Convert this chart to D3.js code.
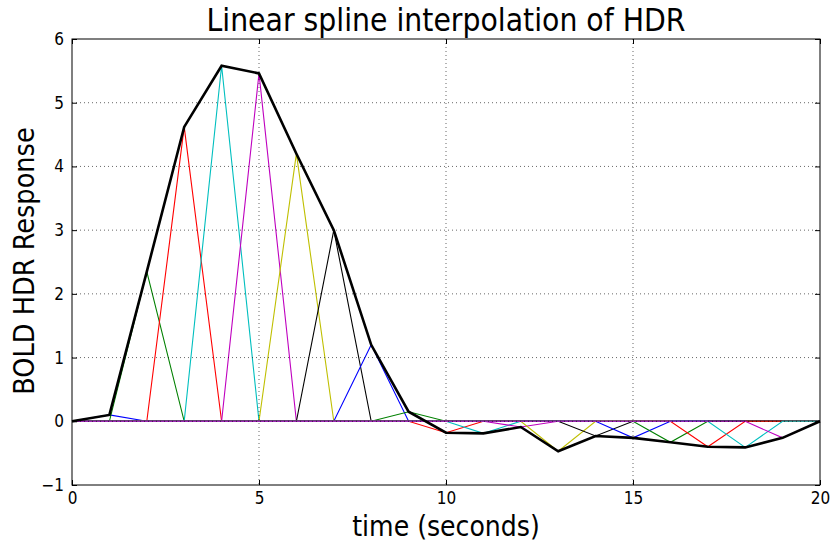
<!DOCTYPE html>
<html><head><meta charset="utf-8">
<script src="https://cdn.jsdelivr.net/npm/d3@7"></script>
<style>body{margin:0;background:#fff}svg{display:block}text{font-family:"DejaVu Sans Condensed","DejaVu Sans",sans-serif;font-stretch:condensed}</style>
</head><body><svg id="c" width="832" height="544"></svg>
<script>
const times = [0,1,2,3,4,5,6,7,8,9,10,11,12,13,14,15,16,17,18,19,20];
const hdrValues = [0,0.1,2.35,4.62,5.58,5.46,4.2,3.0,1.2,0.15,-0.18,-0.19,-0.09,-0.47,-0.23,-0.26,-0.33,-0.4,-0.41,-0.26,0];
const colorCycle = ["#0000ff","#008000","#ff0000","#00bfbf","#bf00bf","#bfbf00","#000000"];
const xTicks = [0,5,10,15,20];
const yTicks = [-1,0,1,2,3,4,5,6];
const title = "Linear spline interpolation of HDR";
const xLabel = "time (seconds)";
const yLabel = "BOLD HDR Response";

const svg = d3.select("#c");
const L=72,T=39,R=820,B=485;
const x = d3.scaleLinear().domain([0,20]).range([L,R]);
const y = d3.scaleLinear().domain([-1,6]).range([B,T]);
const line = d3.line().x(d=>x(d[0])).y(d=>y(d[1]));

const g = svg.append("g");
for (let k=1;k<times.length-1;k++){
  const pts = times.map((t,i)=>[t, i===k ? hdrValues[k] : 0]);
  g.append("path").attr("d",line(pts)).attr("fill","none")
    .attr("stroke",colorCycle[(k-1)%colorCycle.length]).attr("stroke-width",1.1);
}
g.append("path").attr("d",line(times.map((t,i)=>[t,hdrValues[i]]))).attr("fill","none")
  .attr("stroke","#000").attr("stroke-width",2.6).attr("stroke-linejoin","miter");

const grid = svg.append("g").attr("stroke","#000").attr("stroke-width",0.6).attr("stroke-dasharray","1,3");
xTicks.slice(1,-1).forEach(v=>grid.append("line").attr("x1",x(v)).attr("x2",x(v)).attr("y1",T).attr("y2",B));
yTicks.slice(1,-1).forEach(v=>grid.append("line").attr("y1",y(v)).attr("y2",y(v)).attr("x1",L).attr("x2",R));

const ax = svg.append("g").attr("transform",`translate(0,${B})`).call(d3.axisBottom(x).tickValues(xTicks).tickSizeInner(-5).tickSizeOuter(0).tickPadding(7).tickFormat(d3.format("d")));
const ay = svg.append("g").attr("transform",`translate(${L},0)`).call(d3.axisLeft(y).tickValues(yTicks).tickSizeInner(-5).tickSizeOuter(0).tickPadding(8).tickFormat(d=>d<0?"\u2212"+Math.abs(d):d));
const axT = svg.append("g").attr("transform",`translate(0,${T})`).call(d3.axisTop(x).tickValues(xTicks).tickSizeInner(-5).tickSizeOuter(0).tickFormat(""));
const ayR = svg.append("g").attr("transform",`translate(${R},0)`).call(d3.axisRight(y).tickValues(yTicks).tickSizeInner(-5).tickSizeOuter(0).tickFormat(""));
[ax,ay,axT,ayR].forEach(a=>{a.select(".domain").remove();a.selectAll("text").attr("font-size",17).attr("fill","#000").style("font-family",null);a.selectAll("line").attr("stroke","#000");});
svg.append("rect").attr("x",L).attr("y",T).attr("width",R-L).attr("height",B-T).attr("fill","none").attr("stroke","#000").attr("stroke-width",1);

svg.append("text").attr("x",(L+R)/2).attr("y",31).attr("text-anchor","middle").attr("font-size",31.5).text(title);
svg.append("text").attr("x",(L+R)/2).attr("y",536).attr("text-anchor","middle").attr("font-size",28).text(xLabel);
svg.append("text").attr("transform",`translate(34,${(T+B)/2 - 1}) rotate(-90)`).attr("text-anchor","middle").attr("font-size",28.5).text(yLabel);
</script></body></html>
